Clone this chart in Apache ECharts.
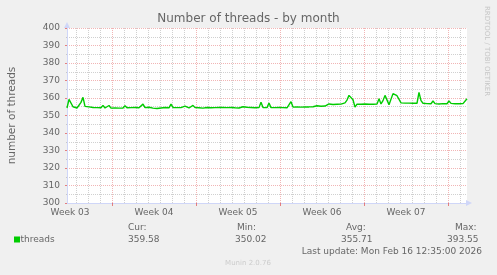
<!DOCTYPE html>
<html><head><meta charset="utf-8">
<script src="https://cdn.jsdelivr.net/npm/echarts@6/dist/echarts.min.js"></script>
<style>html,body{margin:0;padding:0;background:#F0F0F0;}#c{width:497px;height:275px;}</style>
</head><body><div id="c"></div>
<script>
// hours from the start of the 800-hour window, one sample every 4 hours
const sampleStepHours = 4;
const threads = [
354.3,359.2,359.3,355.0,354.2,354.3,354.4,357.5,360.4,355.2,
354.6,354.9,354.4,354.6,354.3,354.5,354.2,354.4,355.8,354.3,
354.6,355.7,354.2,354.5,354.3,354.6,354.2,354.4,354.3,355.6,
354.4,354.2,354.5,354.3,354.6,355.5,354.4,354.8,356.5,354.5,
354.3,354.7,354.4,354.2,354.3,354.0,354.1,354.3,354.2,354.6,
355.5,354.4,356.5,354.6,354.3,354.5,354.2,354.5,354.8,355.4,
354.5,354.3,354.6,355.8,354.5,354.3,354.4,354.1,354.2,354.3,
354.6,355.2,354.4,354.3,354.5,354.4,354.6,355.5,354.6,354.4,
354.5,355.5,354.6,354.2,354.4,354.5,354.3,354.6,355.0,355.9,
354.7,354.4,354.6,354.8,354.4,354.3,354.5,357.6,354.6,354.4,
354.5,357.1,354.5,354.3,354.5,354.2,354.6,355.5,354.5,354.8,
354.4,354.7,357.9,354.8,354.6,354.9,354.6,354.8,354.7,354.9,
355.1,354.9,355.3,355.0,355.2,355.6,355.1,355.3,355.0,355.4,
355.2,356.6,356.1,356.3,356.0,356.4,356.2,356.5,356.1,357.2,
358.8,361.5,362.5,359.0,354.8,356.5,356.1,356.4,356.3,356.6,
357.3,356.4,356.5,356.4,356.6,356.5,359.6,356.6,358.5,361.5,
361.7,356.2,356.8,362.5,361.4,361.3,361.4,357.2,357.0,357.1,
357.0,357.1,357.0,357.0,357.1,357.0,363.2,358.5,357.0,356.7,
356.8,356.6,356.7,358.3,356.8,356.7,356.6,356.7,356.8,356.6,
356.7,358.3,356.9,356.8,356.7,356.8,356.7,356.9,356.8,357.0,
359.6
];
const weekLineHours = [90, 258, 426, 594, 762];
const dayLineHours = [18,42,66,114,138,162,186,210,234,282,306,330,354,378,402,450,474,498,522,546,570,618,642,666,690,714,738,786];
const weekLabelHours = [6, 174, 342, 510, 678];
const weekLabels = ['Week 03','Week 04','Week 05','Week 06','Week 07'];
const statNames = ['Cur:','Min:','Avg:','Max:'];
const statValues = ['359.58','350.02','355.71','393.55'];
const seriesName = 'threads';

const FONT = 'DejaVu Sans';
const TXT = '#666666';
const MINOR = 'rgba(143,143,143,0.42)';
const MAJOR = 'rgba(222,79,79,0.42)';
const AXIS = '#CFD6F8';

const data = threads.map((v, i) => [i * sampleStepHours, v]);

const statHeaderX = [128, 237, 346, 455];
const statValueX = [128, 235, 341, 447];
const graphics = [
  {type:'text', x:12, y:115.5, rotation:Math.PI/2, style:{text:'number of threads', x:0, y:0, align:'center', verticalAlign:'middle', fill:TXT, font:'10.5px "DejaVu Sans"'}},
  {type:'text', x:487, y:51, rotation:-Math.PI/2, style:{text:'RRDTOOL / TOBI OETIKER', x:0, y:0, align:'center', verticalAlign:'middle', fill:'#c6c6c6', font:'7px "DejaVu Sans"'}},
  {type:'rect', shape:{x:14, y:236.5, width:6, height:6}, style:{fill:'#00CC00'}},
  {type:'text', style:{text:seriesName, x:20.5, y:240, align:'left', verticalAlign:'middle', fill:TXT, font:'9px "DejaVu Sans"'}},
  {type:'text', style:{text:'Last update: Mon Feb 16 12:35:00 2026', x:482, y:251.5, align:'right', verticalAlign:'middle', fill:TXT, font:'9px "DejaVu Sans"'}},
  {type:'text', style:{text:'Munin 2.0.76', x:248, y:263, align:'center', verticalAlign:'middle', fill:'#cccccc', font:'7px "DejaVu Sans"'}}
];
statNames.forEach((n, i) => {
  graphics.push({type:'text', style:{text:n, x:statHeaderX[i], y:227.5, align:'left', verticalAlign:'middle', fill:TXT, font:'9px "DejaVu Sans"'}});
  graphics.push({type:'text', style:{text:statValues[i], x:statValueX[i], y:240, align:'left', verticalAlign:'middle', fill:TXT, font:'9px "DejaVu Sans"'}});
});

const chart = echarts.init(document.getElementById('c'), null, {renderer:'canvas'});
chart.setOption({
  backgroundColor:'#F0F0F0',
  animation:false,
  title:{text:'Number of threads - by month', left:'center', top:13, padding:0,
    textStyle:{fontFamily:FONT, fontSize:12, fontWeight:'normal', color:TXT}},
  grid:{left:67, top:28, width:400, height:175, show:true, backgroundColor:'#FFFFFF', borderWidth:0},
  xAxis:[
    {type:'value', min:0, max:800, position:'bottom', z:3,
      axisLine:{show:true, lineStyle:{color:AXIS, width:1}, symbol:['none','triangle'], symbolSize:[6,6], symbolOffset:[0,2]},
      axisTick:{show:true, customValues:weekLineHours, length:3, lineStyle:{color:'rgba(222,79,79,0.7)'}},
      axisLabel:{show:true, customValues:weekLabelHours, margin:5, fontFamily:FONT, fontSize:9, color:TXT,
        formatter:(v)=>{const k = weekLabelHours.indexOf(v); return k>=0 ? weekLabels[k] : '';}},
      splitLine:{show:true, lineStyle:{color:MAJOR, type:[1,1], width:1}}},
    {type:'value', min:0, max:800, position:'bottom', z:1,
      axisLine:{show:false},
      axisTick:{show:true, customValues:dayLineHours, length:1, lineStyle:{color:MINOR}},
      axisLabel:{show:false},
      splitLine:{show:true, lineStyle:{color:MINOR, type:[1,1], width:1}}}
  ],
  yAxis:{type:'value', min:300, max:400, interval:10, z:3,
    axisLine:{show:true, lineStyle:{color:AXIS, width:1}, symbol:['none','triangle'], symbolSize:[6,6], symbolOffset:[0,3]},
    axisTick:{show:true, length:2, lineStyle:{color:'rgba(222,79,79,0.7)'}},
    minorTick:{show:true, splitNumber:2, length:1, lineStyle:{color:MINOR}},
    axisLabel:{margin:7, fontFamily:FONT, fontSize:9, color:TXT},
    splitLine:{show:true, lineStyle:{color:MAJOR, type:[1,1], width:1}},
    minorSplitLine:{show:true, lineStyle:{color:MINOR, type:[1,1], width:1}}},
  series:[{name:seriesName, type:'line', xAxisIndex:0, data:data, showSymbol:false, symbol:'none',
    lineStyle:{color:'#00CC00', width:1.4}, z:5}],
  graphic:graphics
});
</script></body></html>
